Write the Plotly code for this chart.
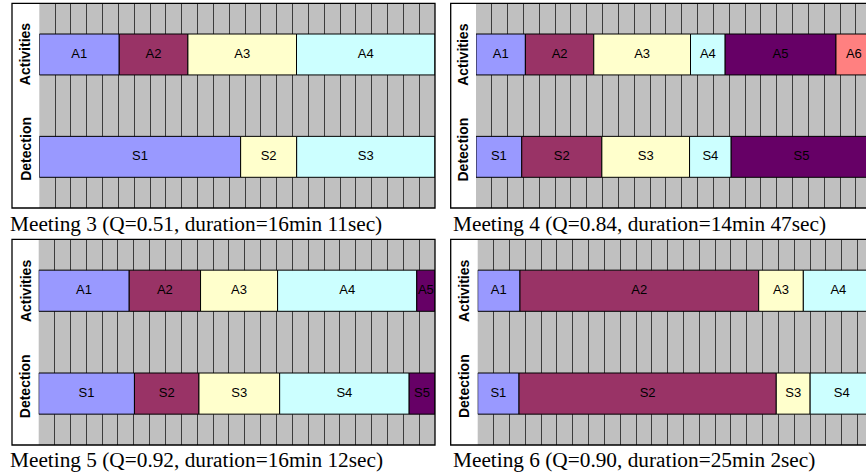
import plotly.graph_objects as go

W, H = 866, 476

# Palette (Excel-like)
palette = ["#9999FF", "#993366", "#FFFFCC", "#CCFFFF", "#660066", "#FF8080"]

# ---- Data: segment end positions along the meeting timeline (grid units, 25 = end) ----
m3_act_labels = ["A1", "A2", "A3", "A4"]
m3_act_ends = [5.05, 9.39, 16.25, 25.0]
m3_act_colors = [0, 1, 2, 3]
m3_det_labels = ["S1", "S2", "S3"]
m3_det_ends = [12.72, 16.26, 25.0]
m3_det_colors = [0, 2, 3]

m4_act_labels = ["A1", "A2", "A3", "A4", "A5", "A6"]
m4_act_ends = [3.12, 7.44, 13.55, 15.74, 22.74, 25.0]
m4_act_colors = [0, 1, 2, 3, 4, 5]
m4_det_labels = ["S1", "S2", "S3", "S4", "S5"]
m4_det_ends = [2.89, 7.95, 13.49, 16.12, 25.0]
m4_det_colors = [0, 1, 2, 3, 4]

m5_act_labels = ["A1", "A2", "A3", "A4", "A5"]
m5_act_ends = [5.71, 10.21, 15.07, 23.85, 25.0]
m5_act_colors = [0, 1, 2, 3, 4]
m5_det_labels = ["S1", "S2", "S3", "S4", "S5"]
m5_det_ends = [6.04, 10.11, 15.2, 23.37, 25.0]
m5_det_colors = [0, 1, 2, 3, 4]

m6_act_labels = ["A1", "A2", "A3", "A4"]
m6_act_ends = [2.67, 17.75, 20.57, 25.0]
m6_act_colors = [0, 1, 2, 3]
m6_det_labels = ["S1", "S2", "S3", "S4"]
m6_det_ends = [2.61, 18.86, 21.0, 25.0]
m6_det_colors = [0, 1, 2, 3]

captions = [
    "Meeting 3 (Q=0.51, duration=16min 11sec)",
    "Meeting 4 (Q=0.84, duration=14min 47sec)",
    "Meeting 5 (Q=0.92, duration=16min 12sec)",
    "Meeting 6 (Q=0.90, duration=25min 2sec)",
]
row_names = ["Activities", "Detection"]

panels = [
    (m3_act_labels, m3_act_ends, m3_act_colors, m3_det_labels, m3_det_ends, m3_det_colors),
    (m4_act_labels, m4_act_ends, m4_act_colors, m4_det_labels, m4_det_ends, m4_det_colors),
    (m5_act_labels, m5_act_ends, m5_act_colors, m5_det_labels, m5_det_ends, m5_det_colors),
    (m6_act_labels, m6_act_ends, m6_act_colors, m6_det_labels, m6_det_ends, m6_det_colors),
]

# ---- Layout geometry (pixels, top-left origin) ----
STRIPE = 15.83
geo = [
    # frame_left, plot_left, plot_right(px), top, bottom, has_right_border, caption_x, caption_y
    (12.0, 39.3, 435.0, 3.3, 208.0, True, 8.0, 224.0),
    (450.7, 476.0, 866.0, 3.3, 208.0, False, 450.5, 224.0),
    (12.0, 38.7, 435.0, 239.3, 445.0, True, 8.0, 460.0),
    (450.7, 477.7, 866.0, 239.3, 445.0, False, 450.5, 460.0),
]

fig = go.Figure()
layout = dict(
    width=W, height=H, margin=dict(l=0, r=0, t=0, b=0),
    paper_bgcolor="white", plot_bgcolor="#C0C0C0",
    showlegend=False, barmode="overlay",
    shapes=[], annotations=[],
)

def px_x(v):
    return v / W

def px_y(v):
    return 1 - v / H

for i, (panel, g) in enumerate(zip(panels, geo)):
    n = "" if i == 0 else str(i + 1)
    xa, ya = "x" + n, "y" + n
    fl, pl, pr, top, bot, rb, cx, cy = g
    xmax = 25.0 if rb else (pr - pl) / STRIPE
    layout["xaxis" + n] = dict(
        domain=[px_x(pl), px_x(pr)], range=[0, xmax], anchor=ya,
        showgrid=True, dtick=1, tick0=0, gridcolor="#3c3c3c", gridwidth=1,
        showticklabels=False, ticks="", zeroline=False, showline=False, fixedrange=True,
    )
    layout["yaxis" + n] = dict(
        domain=[px_y(bot), px_y(top)], range=[0, 4], anchor=xa,
        showgrid=False, showticklabels=False, ticks="", zeroline=False, showline=False,
        fixedrange=True,
    )
    a_lab, a_end, a_col, d_lab, d_end, d_col = panel
    for yv, labs, ends, cols in [(3, a_lab, a_end, a_col), (1, d_lab, d_end, d_col)]:
        starts = [0.0] + ends[:-1]
        lens = [e - s for s, e in zip(starts, ends)]
        fig.add_trace(go.Bar(
            orientation="h", y=[yv] * len(lens), x=lens, base=starts, width=0.8,
            marker=dict(color=[palette[c] for c in cols], line=dict(color="black", width=1)),
            xaxis=xa, yaxis=ya, hoverinfo="skip",
        ))
        fig.add_trace(go.Scatter(
            x=[(s + e) / 2 for s, e in zip(starts, ends)], y=[yv] * len(lens),
            mode="text", text=labs,
            textfont=dict(family="Liberation Sans, Arial, sans-serif", size=13, color="black"),
            xaxis=xa, yaxis=ya, hoverinfo="skip",
        ))
    # frame
    x1 = px_x(pr) if rb else 1.02
    layout["shapes"].append(dict(
        type="rect", xref="paper", yref="paper",
        x0=px_x(fl), x1=x1, y0=px_y(bot), y1=px_y(top),
        line=dict(color="black", width=1.3), fillcolor="rgba(0,0,0,0)", layer="above",
    ))
    # row labels
    lx = px_x((fl + pl) / 2)
    for yv, name in [(3, row_names[0]), (1.15, row_names[1])]:
        layout["annotations"].append(dict(
            xref="paper", yref=ya, x=lx, y=yv, text="<b>%s</b>" % name, textangle=-90,
            showarrow=False, xanchor="center", yanchor="middle",
            font=dict(family="Liberation Sans, Arial, sans-serif", size=14, color="black"),
        ))
    # caption
    layout["annotations"].append(dict(
        xref="paper", yref="paper", x=px_x(cx), y=px_y(cy), text=captions[i],
        showarrow=False, xanchor="left", yanchor="middle",
        font=dict(family="Liberation Serif, Times New Roman, serif", size=21.3, color="black"),
    ))

fig.update_layout(**layout)
fig.write_html(
    "out.html",
    config={"displayModeBar": False, "staticPlot": True},
    post_script="document.body.style.margin='0px';document.body.style.overflow='hidden';",
)
